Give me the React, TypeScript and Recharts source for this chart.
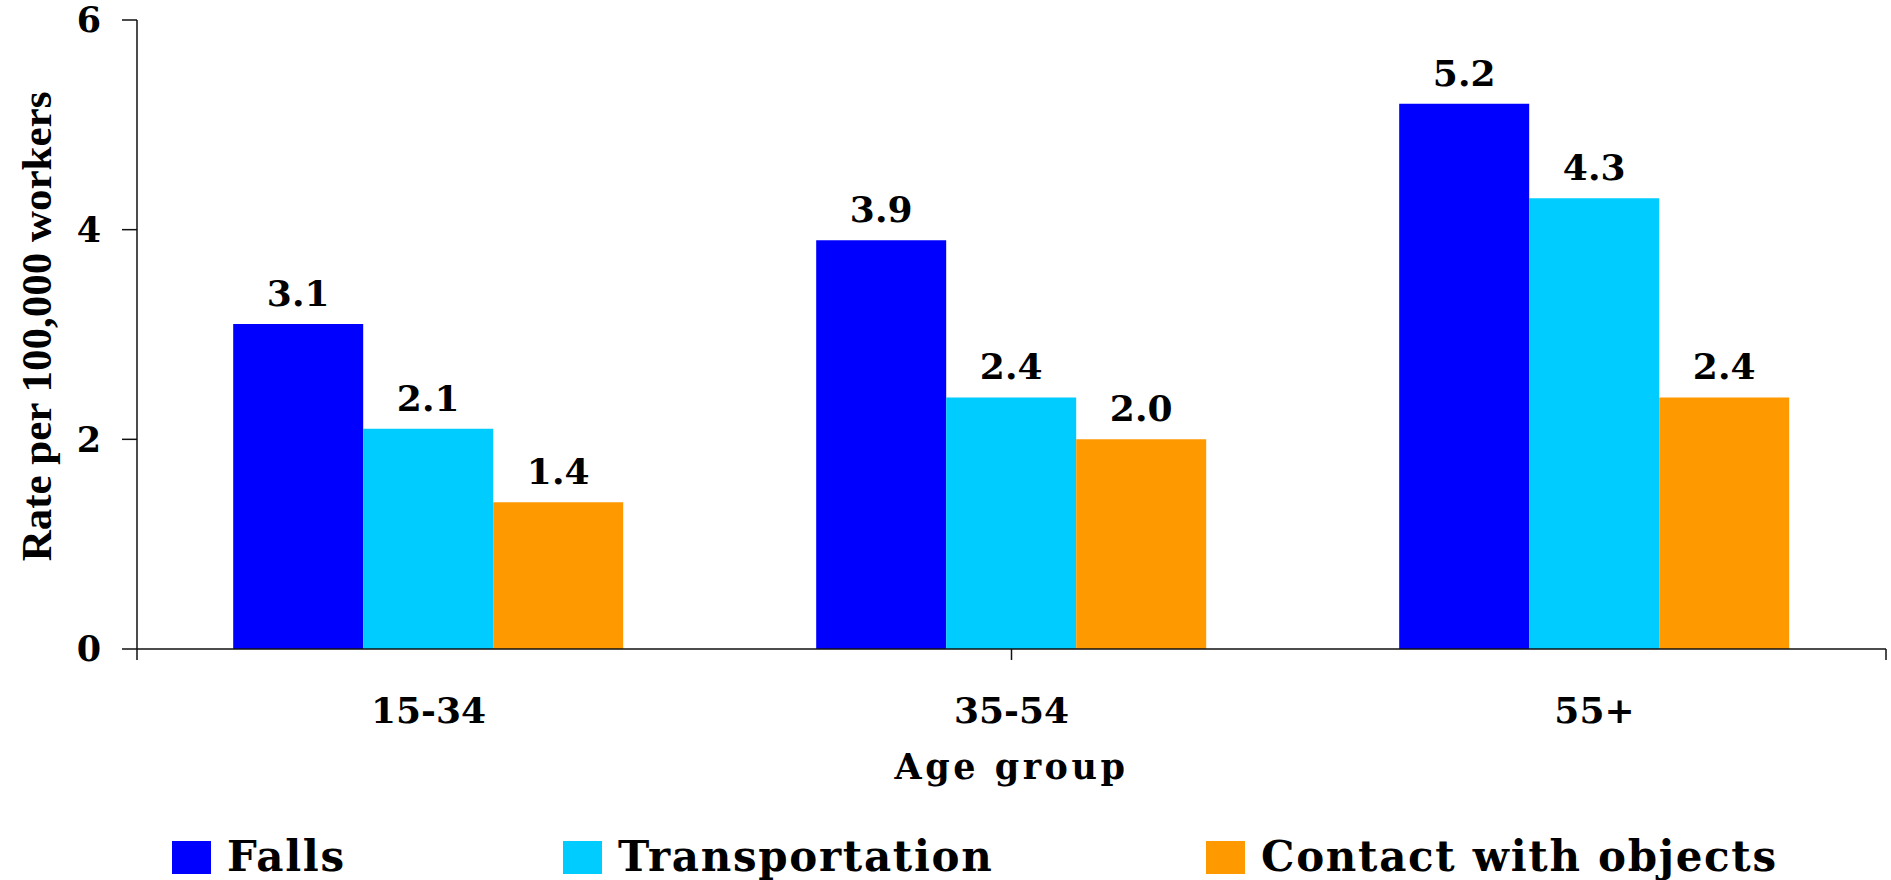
import { BarChart, Bar, XAxis, YAxis, Legend, LabelList } from "recharts";

const ageGroups = ["15-34", "35-54", "55+"];
const falls = [3.1, 3.9, 5.2];
const transportation = [2.1, 2.4, 4.3];
const contactWithObjects = [1.4, 2.0, 2.4];
const yTicks = [0, 2, 4, 6];
const groupEdges = [0, 1, 2, 3];

const seriesList = [
  { key: "falls", name: "Falls", color: "#0000FF", values: falls },
  { key: "transportation", name: "Transportation", color: "#00CCFF", values: transportation },
  { key: "contact", name: "Contact with objects", color: "#FF9900", values: contactWithObjects },
];

const data = ageGroups.map((group, i) => {
  const row: Record<string, string | number> = { group };
  seriesList.forEach((s) => (row[s.key] = s.values[i]));
  return row;
});

const WIDE = '"DejaVu Serif", "Liberation Serif", serif';
const TIMES = '"Liberation Serif", "Times New Roman", serif';
const AXIS = "#111";

// widths of the legend slots, left to right
const legendSlots = [391, 643, 640];

function LegendRow() {
  return (
    <div
      style={{
        height: 60,
        boxSizing: "border-box",
        paddingLeft: 172,
        paddingTop: 14,
        display: "flex",
        alignItems: "center",
        fontFamily: WIDE,
        fontWeight: "bold",
        fontSize: 42,
        letterSpacing: 1.7,
        color: "#000",
        whiteSpace: "nowrap",
      }}
    >
      {seriesList.map((s, i) => (
        <div key={s.key} style={{ width: legendSlots[i], display: "flex", alignItems: "center" }}>
          <span style={{ width: 39, height: 33, background: s.color, marginRight: 16, display: "inline-block" }} />
          <span style={{ lineHeight: "52px" }}>{s.name}</span>
        </div>
      ))}
    </div>
  );
}

export default function App() {
  return (
    <div style={{ position: "absolute", left: 0, top: 0, background: "#fff" }}>
      <BarChart
        width={1891}
        height={880}
        data={data}
        margin={{ top: 20, right: 5, left: 0, bottom: 0 }}
        barCategoryGap="16.5%"
        barGap={0}
        style={{ fontFamily: WIDE, fontWeight: "bold" }}
      >
        <XAxis
          xAxisId="b"
          dataKey="group"
          height={170}
          axisLine={false}
          tickLine={false}
          tickSize={10}
          tickMargin={37}
          tick={{ fill: "#000", fontSize: 36, fontWeight: "bold" }}
          label={{
            value: "Age group",
            position: "insideBottom",
            offset: 41,
            fill: "#000",
            fontSize: 35,
            fontWeight: "bold",
            style: { letterSpacing: 3.5 },
          }}
        />
        <XAxis
          xAxisId="a"
          type="number"
          domain={[0, 3]}
          ticks={groupEdges}
          allowDataOverflow
          height={1}
          tickSize={11}
          tickFormatter={() => ""}
          axisLine={{ stroke: AXIS, strokeWidth: 1.5 }}
          tickLine={{ stroke: AXIS, strokeWidth: 1.5 }}
        />
        <YAxis
          domain={[0, 6]}
          ticks={yTicks}
          width={137}
          tickSize={15}
          tickMargin={21}
          axisLine={{ stroke: AXIS, strokeWidth: 1.5 }}
          tickLine={{ stroke: AXIS, strokeWidth: 1.5 }}
          tick={{ fill: "#000", fontSize: 35, fontWeight: "bold" }}
          label={{
            value: "Rate per 100,000 workers",
            angle: -90,
            position: "insideLeft",
            offset: 36,
            dy: -8,
            fill: "#000",
            fontSize: 43,
            fontWeight: "bold",
            style: { textAnchor: "middle", fontFamily: TIMES },
          }}
        />
        <Legend verticalAlign="bottom" content={LegendRow} wrapperStyle={{ left: 0, width: 1891 }} />
        {seriesList.map((s) => (
          <Bar key={s.key} xAxisId="b" dataKey={s.key} name={s.name} fill={s.color} isAnimationActive={false}>
            <LabelList
              dataKey={s.key}
              position="top"
              offset={18}
              formatter={(v: unknown) => Number(v).toFixed(1)}
              fill="#000"
              fontSize={36}
              fontWeight="bold"
            />
          </Bar>
        ))}
      </BarChart>
    </div>
  );
}
